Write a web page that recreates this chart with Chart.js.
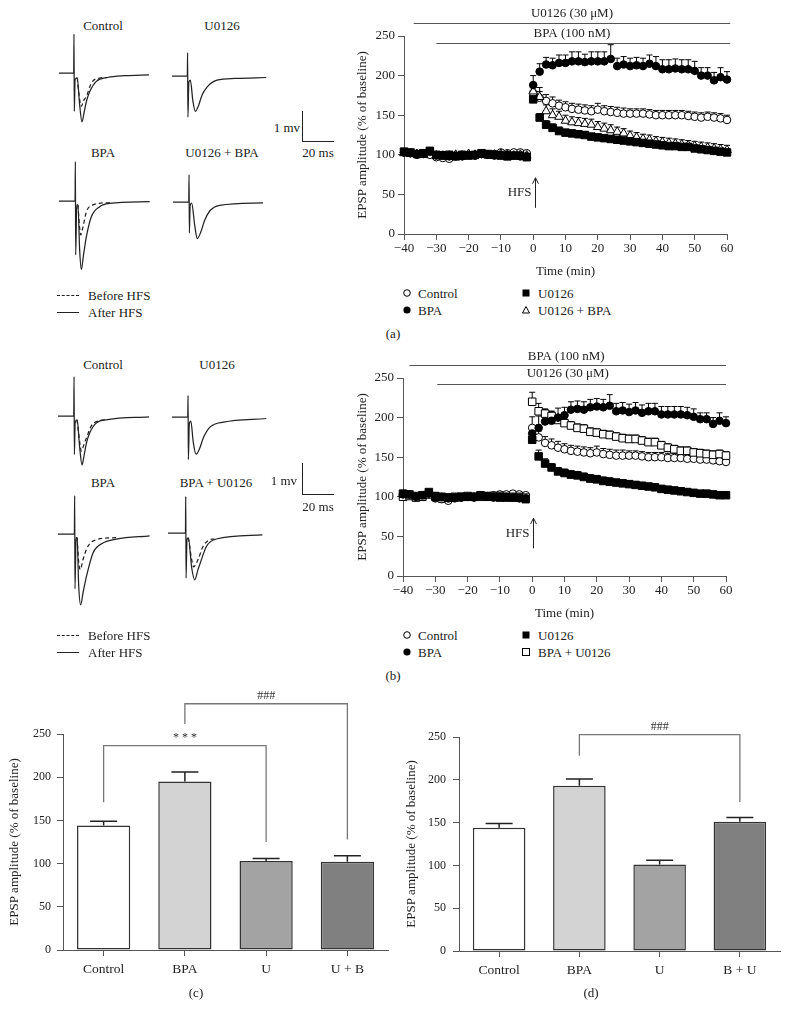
<!DOCTYPE html>
<html>
<head>
<meta charset="utf-8">
<script src="https://cdn.jsdelivr.net/npm/chart.js@4.4.1/dist/chart.umd.min.js"></script>
<style>
  body { margin: 0; background: #fff; }
  #fig { position: relative; width: 789px; height: 1018px; overflow: hidden; font-family: 'Liberation Serif', 'DejaVu Serif', serif; color: #222; font-size: 13px; }
  #fig canvas { position: absolute; }
  .t { position: absolute; white-space: nowrap; transform: translate(-50%, -50%); line-height: 1; }
  .tl { position: absolute; white-space: nowrap; transform: translate(0, -50%); line-height: 1; }
  .tr { position: absolute; white-space: nowrap; transform: translate(-100%, -50%); line-height: 1; }
  .hl { position: absolute; height: 0; border-top: 1px solid #222; }
  .hd { position: absolute; height: 0; border-top: 1px dashed #222; }
  .sb { position: absolute; border-left: 1px solid #222; border-bottom: 1px solid #222; }
  .mk { position: absolute; transform: translate(-50%, -50%); }
</style>
</head>
<body>
<div id="fig">
  <!-- panel a: traces -->
  <div class="t" style="left:103px;top:25px">Control</div>
  <div class="t" style="left:222px;top:25px">U0126</div>
  <div class="t" style="left:103px;top:152px">BPA</div>
  <div class="t" style="left:222px;top:152px">U0126 + BPA</div>
  <canvas id="trA1" width="96" height="120" style="left:59px;top:28px"></canvas>
  <canvas id="trA2" width="96" height="120" style="left:172px;top:31px"></canvas>
  <canvas id="trA3" width="96" height="120" style="left:59px;top:156px"></canvas>
  <canvas id="trA4" width="96" height="120" style="left:173px;top:157px"></canvas>
  <div class="tr" style="left:300px;top:127px">1 mv</div>
  <div class="sb" style="left:302px;top:111px;width:31px;height:30px"></div>
  <div class="t" style="left:318px;top:152px">20 ms</div>
  <div class="hd" style="left:57px;top:295px;width:22px"></div>
  <div class="tl" style="left:88px;top:295px">Before HFS</div>
  <div class="hl" style="left:57px;top:312px;width:22px"></div>
  <div class="tl" style="left:88px;top:312px">After HFS</div>

  <!-- panel a: time course -->
  <canvas id="scA" width="434" height="282" style="left:355px;top:0px"></canvas>
  <svg class="mk" style="left:407px;top:293px" width="9" height="9"><circle cx="4.5" cy="4.5" r="3.3" fill="#fff" stroke="#000" stroke-width="1"/></svg>
  <div class="tl" style="left:418px;top:293px">Control</div>
  <svg class="mk" style="left:407px;top:310px" width="9" height="9"><circle cx="4.5" cy="4.5" r="3.6" fill="#000"/></svg>
  <div class="tl" style="left:418px;top:310px">BPA</div>
  <svg class="mk" style="left:526px;top:293px" width="9" height="9"><rect x="1" y="1" width="7" height="7" fill="#000"/></svg>
  <div class="tl" style="left:538px;top:293px">U0126</div>
  <svg class="mk" style="left:526px;top:310px" width="9" height="9"><polygon points="4.5,1 8,7.5 1,7.5" fill="#fff" stroke="#000" stroke-width="1"/></svg>
  <div class="tl" style="left:538px;top:310px">U0126 + BPA</div>
  <div class="t" style="left:393px;top:333px">(a)</div>

  <!-- panel b: traces -->
  <div class="t" style="left:103px;top:364px">Control</div>
  <div class="t" style="left:217px;top:364px">U0126</div>
  <div class="t" style="left:103px;top:482px">BPA</div>
  <div class="t" style="left:216px;top:482px">BPA + U0126</div>
  <canvas id="trB1" width="96" height="120" style="left:58px;top:371px"></canvas>
  <canvas id="trB2" width="96" height="120" style="left:172px;top:372px"></canvas>
  <canvas id="trB3" width="96" height="120" style="left:58px;top:489px"></canvas>
  <canvas id="trB4" width="96" height="120" style="left:168px;top:488px"></canvas>
  <div class="tr" style="left:297px;top:480px">1 mv</div>
  <div class="sb" style="left:302px;top:463px;width:31px;height:31px"></div>
  <div class="t" style="left:318px;top:506px">20 ms</div>
  <div class="hd" style="left:57px;top:635px;width:22px"></div>
  <div class="tl" style="left:88px;top:635px">Before HFS</div>
  <div class="hl" style="left:57px;top:652px;width:22px"></div>
  <div class="tl" style="left:88px;top:652px">After HFS</div>

  <!-- panel b: time course -->
  <canvas id="scB" width="434" height="282" style="left:355px;top:340px"></canvas>
  <svg class="mk" style="left:407px;top:635px" width="9" height="9"><circle cx="4.5" cy="4.5" r="3.3" fill="#fff" stroke="#000" stroke-width="1"/></svg>
  <div class="tl" style="left:418px;top:635px">Control</div>
  <svg class="mk" style="left:407px;top:652px" width="9" height="9"><circle cx="4.5" cy="4.5" r="3.6" fill="#000"/></svg>
  <div class="tl" style="left:418px;top:652px">BPA</div>
  <svg class="mk" style="left:526px;top:635px" width="9" height="9"><rect x="1" y="1" width="7" height="7" fill="#000"/></svg>
  <div class="tl" style="left:538px;top:635px">U0126</div>
  <svg class="mk" style="left:526px;top:652px" width="9" height="9"><rect x="1" y="1" width="7" height="7" fill="#fff" stroke="#000" stroke-width="1"/></svg>
  <div class="tl" style="left:538px;top:652px">BPA + U0126</div>
  <div class="t" style="left:393px;top:675px">(b)</div>

  <!-- panels c, d -->
  <canvas id="barC" width="400" height="305" style="left:0px;top:680px"></canvas>
  <canvas id="barD" width="389" height="305" style="left:400px;top:680px"></canvas>
  <div class="t" style="left:196px;top:992px">(c)</div>
  <div class="t" style="left:591px;top:992px">(d)</div>
</div>

<script>
// ---- time course data (min, % of baseline) ----
const times = [-40,-38,-36,-34,-32,-30,-28,-26,-24,-22,-20,-18,-16,-14,-12,-10,-8,-6,-4,-2,
  0,2,4,6,8,10,12,14,16,18,20,22,24,26,28,30,32,34,36,38,40,42,44,46,48,50,52,54,56,58,60];
const timeTicks = [-40,-30,-20,-10,0,10,20,30,40,50,60];
const ampTicks = [0,50,100,150,200,250];

// panel (a)
const aCtrl = [103,102,101,102,100,97,96,95,98,99,100,99,101,100,101,103,102,103,103,102,
  178,172,168,165,162,160,158,157,156,155,157,155,154,153,152,152,152,152,151,150,150,150,150,150,149,148,147,148,147,146,144];
const aCtrlErr = [2,2,2,2,2,2,2,2,2,2,2,2,2,2,2,2,2,2,2,2,
  10,8,8,8,7,7,7,7,7,7,8,7,7,7,7,6,6,6,6,6,6,6,6,6,6,6,6,6,6,6,6];
const aBpa = [103,102,100,101,104,99,100,98,99,98,100,99,101,100,99,100,100,99,98,98,
  188,205,214,213,216,216,218,218,217,218,218,218,221,212,214,212,213,212,215,212,208,208,209,208,208,206,200,200,194,198,195];
const aBpaErr = [2,2,2,2,2,2,2,2,2,2,2,2,2,2,2,2,2,2,2,2,
  12,10,9,9,10,10,12,12,10,12,12,12,18,10,10,10,10,10,11,12,12,12,12,12,12,12,10,10,10,12,10];
const aU = [104,103,101,102,105,100,99,100,98,100,99,100,102,101,100,99,98,99,99,97,
  170,147,138,134,130,128,127,126,125,123,122,121,120,119,118,117,116,115,114,113,112,111,111,110,110,108,107,106,105,104,103];
const aUErr = [2,2,2,2,2,2,2,2,2,2,2,2,2,2,2,2,2,2,2,2,
  6,5,5,5,5,4,4,4,4,4,4,4,4,4,4,4,4,4,4,4,4,4,4,4,4,4,4,4,4,4,4];
const aUB = [102,101,101,100,103,99,98,99,100,99,101,100,100,99,100,101,100,99,100,99,
  180,173,155,150,148,143,141,140,139,138,135,133,131,129,127,124,122,120,119,117,116,115,114,113,112,111,110,109,108,107,106];
const aUBErr = [2,2,2,2,2,2,2,2,2,2,2,2,2,2,2,2,2,2,2,2,
  10,12,8,8,7,7,7,7,7,7,7,7,7,6,6,6,6,6,6,6,6,6,6,6,6,6,6,6,6,6,6];

// panel (b)
const bCtrl = [101,102,99,101,103,98,97,95,98,99,100,100,101,101,102,103,103,104,103,102,
  187,175,168,165,162,160,158,157,156,155,156,154,153,152,152,152,152,151,150,150,150,149,149,149,148,148,147,147,146,145,144];
const bCtrlErr = [2,2,2,2,2,2,2,2,2,2,2,2,2,2,2,2,2,2,2,2,
  14,8,8,8,8,7,7,7,7,7,8,7,7,7,7,6,6,6,6,6,6,6,6,6,6,6,6,6,6,6,6];
const bBpa = [103,103,100,102,104,99,100,98,99,99,100,99,101,100,99,100,100,99,98,98,
  180,187,195,196,200,203,210,211,210,213,214,213,215,208,209,207,209,206,208,208,204,204,204,204,203,201,198,198,192,196,193];
const bBpaErr = [2,2,2,2,2,2,2,2,2,2,2,2,2,2,2,2,2,2,2,2,
  10,15,15,12,12,10,10,10,10,10,10,10,14,10,10,10,10,10,10,10,10,10,10,10,10,10,8,8,8,10,8];
const bU = [104,103,101,102,106,101,100,99,99,100,100,100,102,101,100,99,99,99,99,97,
  172,151,142,137,132,130,128,127,125,123,122,120,119,118,117,116,115,114,113,112,110,109,108,107,106,105,104,104,103,102,102];
const bUErr = [2,2,2,2,2,2,2,2,2,2,2,2,2,2,2,2,2,2,2,2,
  6,8,6,5,5,5,5,5,5,5,5,5,5,4,4,4,4,4,4,4,4,4,4,4,4,4,4,4,4,4,4];
const bBU = [100,101,99,100,103,100,98,99,100,100,101,100,100,100,101,101,100,100,100,99,
  220,208,205,202,197,193,190,187,186,182,181,179,178,176,174,173,173,171,169,169,165,162,160,158,158,156,155,154,153,154,152];
const bBUErr = [2,2,2,2,2,2,2,2,2,2,2,2,2,2,2,2,2,2,2,2,
  12,10,6,6,6,5,5,5,5,5,5,5,5,5,5,5,5,5,5,5,5,5,5,5,5,5,5,5,5,5,5];

// ---- bar summaries ----
const cLabels = ['Control', 'BPA', 'U', 'U + B'];
const cMeans = [144, 195, 103, 102];
const cErr = [5, 11, 3, 7];
const dLabels = ['Control', 'BPA', 'U', 'B + U'];
const dMeans = [144, 193, 101, 151];
const dErr = [5, 8, 5, 5];
const barColors = ['#ffffff', '#d3d3d3', '#a3a3a3', '#808080'];

// ---- example traces [ms, mV] ----
const aCtrlAfter = [[0,0],[9.6,0],[9.8,1.3],[10.0,-1.28],[10.5,-0.22],[11.9,-0.16],[13.5,-1.06],[15.0,-1.63],[16.5,-1.29],[17.9,-0.95],[20.1,-0.62],[24.4,-0.28],[31.8,-0.15],[42.9,-0.09],[58.8,-0.06]];
const aCtrlBefore = [[11.9,-0.16],[13.5,-0.89],[14.6,-1.11],[16.1,-0.92],[17.9,-0.78],[21.2,-0.33],[26.6,-0.17],[31.8,-0.15]];
const aUTrace = [[0,0],[10.0,0],[10.2,0.78],[10.4,-1.37],[11.0,-0.21],[12.0,-0.14],[13.6,-0.81],[15.2,-1.18],[17.2,-1.01],[19.6,-0.64],[22.9,-0.37],[29.4,-0.14],[41.4,-0.08],[61.6,-0.05]];
const aBpaAfter = [[0,0],[10.5,0],[10.7,1.31],[10.9,-1.8],[11.6,-0.13],[12.4,-0.13],[13.5,-1.63],[14.6,-2.28],[16.1,-1.77],[17.9,-1.19],[21.2,-0.52],[26.6,-0.19],[33.1,-0.08],[59.3,-0.02]];
const aBpaBefore = [[12.4,-0.13],[13.5,-0.9],[14.2,-1.13],[15.7,-0.86],[17.9,-0.36],[22.2,-0.13],[33.1,-0.05]];
const aUBTrace = [[0,0],[10.3,0],[10.5,0.91],[10.7,-1.03],[11.2,-0.11],[12.2,-0.04],[14.2,-0.78],[15.9,-1.22],[18.1,-1.01],[20.7,-0.61],[24.0,-0.3],[30.5,-0.11],[58.8,-0.03]];
const bCtrlAfter = [[0,0],[10.3,0],[10.5,1.31],[10.7,-1.28],[11.2,-0.23],[12.5,-0.13],[14.2,-1.07],[15.7,-1.63],[17.1,-1.3],[18.6,-0.9],[20.7,-0.57],[25.1,-0.23],[32.5,-0.12],[59.5,-0.03]];
const bCtrlBefore = [[12.5,-0.13],[14.2,-0.87],[15.3,-1.17],[16.8,-0.97],[18.6,-0.73],[21.8,-0.33],[27.3,-0.15],[32.5,-0.12]];
const bUTrace = [[0,0],[10.3,0],[10.5,0.72],[10.7,-1.42],[11.3,-0.24],[12.3,-0.14],[13.9,-0.84],[15.7,-1.24],[17.8,-1.08],[20.7,-0.67],[25.0,-0.33],[33.7,-0.17],[61.6,-0.05]];
const bBpaAfter = [[0,0],[10.7,0],[10.9,1.28],[11.1,-1.83],[11.8,-0.12],[12.5,-0.12],[13.5,-1.69],[14.8,-2.36],[16.5,-1.92],[18.6,-1.41],[22.9,-0.63],[29.4,-0.3],[38.2,-0.17],[59.9,-0.06]];
const bBpaBefore = [[12.5,-0.12],[13.5,-0.92],[14.6,-1.19],[16.3,-0.86],[19.6,-0.41],[25.1,-0.19],[38.2,-0.12]];
const bBUAfter = [[0,0],[11.4,0],[11.6,1.22],[11.8,-1.5],[12.4,-0.22],[13.3,-0.16],[15.5,-1.16],[17.5,-1.56],[19.6,-1.22],[20.7,-1.06],[25.1,-0.45],[31.6,-0.2],[61.7,-0.06]];
const bBUBefore = [[13.3,-0.16],[15.5,-0.89],[16.8,-1.13],[19.6,-0.89],[22.9,-0.45],[29.4,-0.2],[31.6,-0.2]];

Chart.defaults.font.family = "'Liberation Serif', 'DejaVu Serif', serif";
Chart.defaults.font.size = 13;
Chart.defaults.color = '#222';

const AXIS = '#555';
const minus = (v) => String(v).replace('-', '\u2212');

// upward-only error bars, read from dataset.errUp
const errBars = {
  id: 'errBars',
  beforeDatasetsDraw(chart) {
    const { ctx } = chart;
    const y = chart.scales.y;
    chart.data.datasets.forEach((ds, di) => {
      if (!ds.errUp) return;
      const meta = chart.getDatasetMeta(di);
      ctx.save();
      ctx.strokeStyle = ds.errColor || '#000';
      ctx.lineWidth = ds.errWidth || 1;
      meta.data.forEach((el, i) => {
        const raw = ds.data[i];
        const v = typeof raw === 'object' ? raw.y : raw;
        const top = y.getPixelForValue(v + ds.errUp[i]);
        const half = (ds.capWidth || 6) / 2;
        ctx.beginPath();
        ctx.moveTo(el.x, el.y);
        ctx.lineTo(el.x, top);
        ctx.moveTo(el.x - half, top);
        ctx.lineTo(el.x + half, top);
        ctx.stroke();
      });
      ctx.restore();
    });
  }
};

// drug application bars and HFS arrow
const notes = {
  id: 'notes',
  afterDraw(chart, args, o) {
    if (!o.drugs) return;
    const { ctx } = chart;
    const x = chart.scales.x, y = chart.scales.y;
    ctx.save();
    ctx.strokeStyle = AXIS;
    ctx.fillStyle = '#222';
    ctx.lineWidth = 1;
    ctx.font = "13px 'Liberation Serif', serif";
    ctx.textAlign = 'center';
    ctx.textBaseline = 'middle';
    o.drugs.forEach(d => {
      const ly = Math.round(y.getPixelForValue(d.lineY)) + 0.5;
      ctx.beginPath();
      ctx.moveTo(x.getPixelForValue(d.from), ly);
      ctx.lineTo(x.getPixelForValue(d.to), ly);
      ctx.stroke();
      ctx.fillText(d.text, x.getPixelForValue(d.textX), y.getPixelForValue(d.textY));
    });
    const h = o.hfs;
    const ax = Math.round(x.getPixelForValue(h.at)) + 0.5;
    const y0 = y.getPixelForValue(h.from), y1 = y.getPixelForValue(h.to);
    ctx.strokeStyle = '#222';
    ctx.beginPath();
    ctx.moveTo(ax, y0); ctx.lineTo(ax, y1);
    ctx.moveTo(ax - 3, y1 + 6); ctx.lineTo(ax, y1); ctx.lineTo(ax + 3, y1 + 6);
    ctx.stroke();
    ctx.textAlign = 'right';
    ctx.fillText('HFS', ax - 4, y.getPixelForValue(h.textY));
    ctx.restore();
  }
};

// significance brackets on bar charts
const brackets = {
  id: 'brackets',
  afterDraw(chart, args, o) {
    if (!o.list) return;
    const { ctx } = chart;
    const x = chart.scales.x, y = chart.scales.y;
    ctx.save();
    ctx.strokeStyle = '#777';
    ctx.fillStyle = '#333';
    ctx.lineWidth = 1.3;
    ctx.font = "12px 'Liberation Serif', serif";
    ctx.textAlign = 'center';
    ctx.textBaseline = 'bottom';
    o.list.forEach(b => {
      const x1 = x.getPixelForValue(b.from), x2 = x.getPixelForValue(b.to);
      const ly = y.getPixelForValue(b.level);
      ctx.beginPath();
      ctx.moveTo(x1, y.getPixelForValue(b.leftDrop));
      ctx.lineTo(x1, ly);
      ctx.lineTo(x2, ly);
      ctx.lineTo(x2, y.getPixelForValue(b.rightDrop));
      ctx.stroke();
      ctx.fillText(b.text, (x1 + x2) / 2, ly - 2);
    });
    ctx.restore();
  }
};

function pts(vals) {
  return times.map((t, i) => ({ x: t, y: vals[i] }));
}

function series(vals, errs, style, fill, radius) {
  return {
    data: pts(vals), errUp: errs, capWidth: 6,
    pointStyle: style, pointRadius: radius, pointBorderWidth: 1,
    pointBackgroundColor: fill, pointBorderColor: '#000',
    showLine: false, clip: false
  };
}

function makeScatter(id, datasets, lay, noteOpts) {
  return new Chart(document.getElementById(id), {
    type: 'scatter',
    data: { datasets },
    options: {
      responsive: false, animation: false,
      layout: { padding: { top: lay.padTop, right: lay.padRight, left: 0, bottom: 0 } },
      plugins: { legend: { display: false }, tooltip: { enabled: false }, notes: noteOpts },
      scales: {
        x: {
          type: 'linear', min: -40, max: 60,
          afterBuildTicks: s => { s.ticks = timeTicks.map(v => ({ value: v })); },
          afterFit: s => { s.height = lay.xH; },
          ticks: { callback: v => minus(v), padding: 1, maxRotation: 0 },
          grid: { display: true, drawOnChartArea: false, tickLength: 6, color: AXIS },
          border: { color: AXIS },
          title: { display: true, text: 'Time (min)', padding: { top: 0, bottom: lay.titlePad } }
        },
        y: {
          min: 0, max: 250,
          afterBuildTicks: s => { s.ticks = ampTicks.map(v => ({ value: v })); },
          afterFit: s => { s.width = lay.yW; },
          ticks: { padding: 3 },
          grid: { display: true, drawOnChartArea: false, tickLength: 6, color: AXIS },
          border: { color: AXIS },
          title: { display: true, text: 'EPSP amplitude (% of baseline)', padding: 0 }
        }
      }
    },
    plugins: [errBars, notes]
  });
}

makeScatter('scA', [
  series(aBpa, aBpaErr, 'circle', '#000', 3.8),
  series(aU, aUErr, 'rect', '#000', 5.3),
  series(aUB, aUBErr, 'triangle', '#fff', 5),
  series(aCtrl, aCtrlErr, 'circle', '#fff', 3.8)
], { padTop: 36, padRight: 62, xH: 48, yW: 49, titlePad: 3 }, {
  drugs: [
    { text: 'U0126 (30 \u03bcM)', from: -37, to: 61, lineY: 267, textX: 12, textY: 278 },
    { text: 'BPA (100 nM)', from: -30, to: 61, lineY: 241, textX: 12, textY: 253 }
  ],
  hfs: { at: 0.5, from: 33, to: 71, textY: 52 }
});

makeScatter('scB', [
  series(bBpa, bBpaErr, 'circle', '#000', 3.8),
  series(bU, bUErr, 'rect', '#000', 5.3),
  series(bBU, bBUErr, 'rect', '#fff', 5.3),
  series(bCtrl, bCtrlErr, 'circle', '#fff', 3.8)
], { padTop: 38, padRight: 63, xH: 46, yW: 48, titlePad: 1 }, {
  drugs: [
    { text: 'BPA (100 nM)', from: -38, to: 60, lineY: 266, textX: 10.5, textY: 276.5 },
    { text: 'U0126 (30 \u03bcM)', from: -29.4, to: 60, lineY: 242.4, textX: 11, textY: 256 }
  ],
  hfs: { at: 0.3, from: 35, to: 73, textY: 53.5 }
});

function makeBars(id, labels, means, errs, lay, bracketList) {
  return new Chart(document.getElementById(id), {
    type: 'bar',
    data: {
      labels,
      datasets: [{
        data: means, errUp: errs, capWidth: 27, errWidth: 1.5, errColor: '#222',
        backgroundColor: barColors, borderColor: '#333', borderWidth: 1.5,
        borderSkipped: false, barPercentage: 0.655, categoryPercentage: 1
      }]
    },
    options: {
      responsive: false, animation: false,
      layout: { padding: { top: lay.padTop, right: lay.padRight, left: 0, bottom: 0 } },
      plugins: { legend: { display: false }, tooltip: { enabled: false }, brackets: { list: bracketList } },
      scales: {
        x: {
          afterFit: s => { s.height = lay.xH; },
          ticks: { padding: 5, font: { size: 13.5 } },
          grid: { display: true, offset: false, drawOnChartArea: false, tickLength: 6, color: AXIS },
          border: { color: AXIS }
        },
        y: {
          min: 0, max: 250,
          afterBuildTicks: s => { s.ticks = ampTicks.map(v => ({ value: v })); },
          afterFit: s => { s.width = lay.yW; },
          ticks: { padding: lay.tickPad, font: { size: 12 } },
          grid: { display: true, drawOnChartArea: false, tickLength: 6, color: AXIS },
          border: { color: AXIS },
          title: { display: true, text: 'EPSP amplitude (% of baseline)', padding: { top: lay.titlePad, bottom: 0 } }
        }
      }
    },
    plugins: [errBars, brackets]
  });
}

makeBars('barC', cLabels, cMeans, cErr, { padTop: 54, padRight: 12, xH: 35, yW: 63, tickPad: 6, titlePad: 7 }, [
  { from: 0, to: 2, level: 236.5, leftDrop: 171, rightDrop: 125, text: '* * *' },
  { from: 1, to: 3, level: 285, leftDrop: 261.6, rightDrop: 128, text: '###' }
]);

makeBars('barD', dLabels, dMeans, dErr, { padTop: 57, padRight: 9, xH: 34, yW: 59, tickPad: 7, titlePad: 4 }, [
  { from: 1, to: 3, level: 252.8, leftDrop: 228, rightDrop: 174, text: '###' }
]);

function xy(arr) {
  return arr.map(p => ({ x: p[0], y: p[1] }));
}

function makeTrace(id, after, before) {
  const line = (arr, dash) => ({
    data: xy(arr), showLine: true, pointRadius: 0, borderColor: '#222',
    borderWidth: 1.25, borderDash: dash, cubicInterpolationMode: 'monotone', clip: false
  });
  const sets = [line(after, [])];
  if (before) sets.push(line(before, [4, 3]));
  return new Chart(document.getElementById(id), {
    type: 'scatter',
    data: { datasets: sets },
    options: {
      responsive: false, animation: false,
      layout: { padding: 0 },
      plugins: { legend: { display: false }, tooltip: { enabled: false } },
      scales: {
        x: { type: 'linear', display: false, min: 0, max: 62.75 },
        y: { display: false, min: -2.5, max: 1.5 }
      }
    }
  });
}

makeTrace('trA1', aCtrlAfter, aCtrlBefore);
makeTrace('trA2', aUTrace, null);
makeTrace('trA3', aBpaAfter, aBpaBefore);
makeTrace('trA4', aUBTrace, null);
makeTrace('trB1', bCtrlAfter, bCtrlBefore);
makeTrace('trB2', bUTrace, null);
makeTrace('trB3', bBpaAfter, bBpaBefore);
makeTrace('trB4', bBUAfter, bBUBefore);
</script>
</body>
</html>
